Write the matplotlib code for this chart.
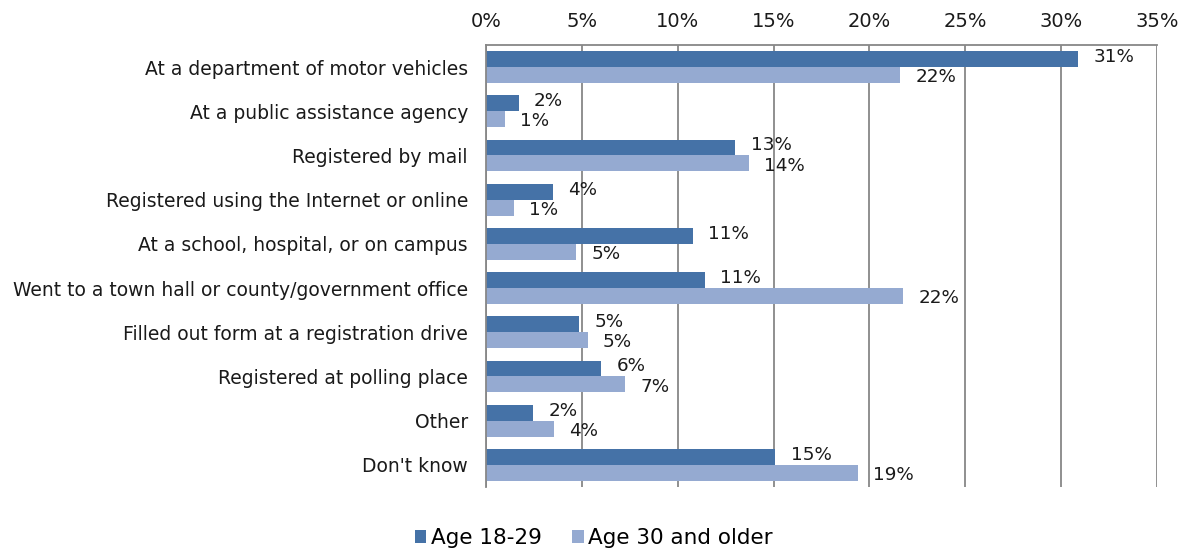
import matplotlib.pyplot as plt
import numpy as np

categories = [
    "At a department of motor vehicles",
    "At a public assistance agency",
    "Registered by mail",
    "Registered using the Internet or online",
    "At a school, hospital, or on campus",
    "Went to a town hall or county/government office",
    "Filled out form at a registration drive",
    "Registered at polling place",
    "Other",
    "Don't know",
]
young = [30.9, 1.7, 13.0, 3.5, 10.8, 11.4, 4.85, 6.0, 2.45, 15.1]
older = [21.6, 1.0, 13.7, 1.45, 4.7, 21.75, 5.3, 7.25, 3.55, 19.4]
series_names = ["Age 18-29", "Age 30 and older"]
xticks = [0, 5, 10, 15, 20, 25, 30, 35]

dark = "#4572a7"
light = "#95aad1"
grid = "#878787"

plt.rcParams["font.family"] = ["DejaVu Sans"]

fig = plt.figure(figsize=(11.87, 5.51), dpi=100)
ax = fig.add_axes([486 / 1187, 1 - 487 / 551, (1157 - 486) / 1187, (487 - 45) / 551])

y = np.arange(len(categories))
h = 0.36
b1 = ax.barh(y - h / 2, young, height=h, color=dark, label=series_names[0])
b2 = ax.barh(y + h / 2, older, height=h, color=light, label=series_names[1])

# value labels, dark ones nudged up a bit and light ones down, like the original
for bars, vals, dy in ((b1, young, 1.5), (b2, older, -1.5)):
    for bar, v in zip(bars, vals):
        ax.annotate(f"{round(v):.0f}%", (bar.get_width(), bar.get_y() + bar.get_height() / 2),
                    xytext=(11, dy), textcoords="offset points", va="center", ha="left",
                    fontsize=13.2, color="#1a1a1a")

ax.set_xlim(0, 35)
ax.set_ylim(len(categories) - 0.5, -0.5)
ax.set_xticks(xticks)
ax.set_xticklabels([f"{t}%" for t in xticks])
ax.xaxis.tick_top()
ax.set_yticks(y)
ax.set_yticklabels(categories)
ax.tick_params(axis="x", length=0, pad=10, labelsize=14, colors="#1a1a1a")
ax.tick_params(axis="y", length=0, pad=13, labelsize=13.5, colors="#1a1a1a")
ax.grid(axis="x", color=grid, linewidth=1.3)
ax.set_axisbelow(True)
for s in ("bottom", "right"):
    ax.spines[s].set_visible(False)
for s in ("top", "left"):
    ax.spines[s].set_color(grid)
    ax.spines[s].set_linewidth(1.3)

fig.legend(loc="lower center", bbox_to_anchor=(0.5, -0.03), ncol=2, frameon=False,
           fontsize=15.5, handlelength=0.55, handleheight=0.55, handletextpad=0.2,
           columnspacing=1.4)

fig.savefig("out.png", dpi=100)
